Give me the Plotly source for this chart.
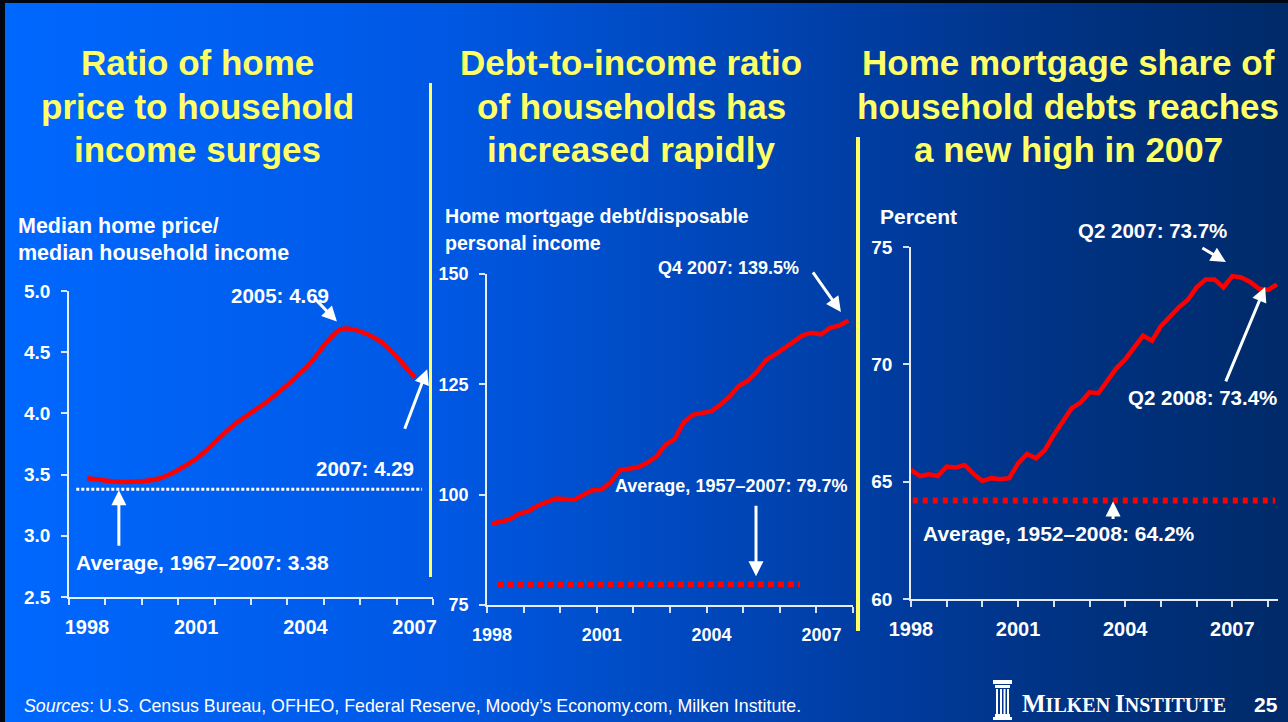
import plotly.graph_objects as go

W, H = 1288, 722

# ---------------- data ----------------
# Panel 1: median home price / median household income (annual, plotted mid-year)
p1_years = [1998, 1999, 2000, 2001, 2002, 2003, 2004, 2005, 2006, 2007]
p1_ratio = [3.47, 3.44, 3.47, 3.63, 3.90, 4.11, 4.37, 4.69, 4.60, 4.29]
p1_avg = 3.38
p1_avg_span = [1998.2, 2007.7]

# Panel 2: home mortgage debt / disposable personal income, quarterly 1998Q1-2007Q4
p2_start_year = 1998
p2_ratio = [93.4, 94.0, 94.4, 95.7,
            96.2, 97.5, 98.3, 99.1,
            99.0, 98.8, 99.9, 101.0,
            101.1, 102.8, 105.5, 105.8,
            106.2, 107.2, 108.6, 111.3,
            112.6, 116.4, 118.1, 118.5,
            118.9, 120.4, 122.2, 124.6,
            125.8, 127.9, 130.5, 131.8,
            133.3, 134.9, 136.1, 136.7,
            136.3, 137.8, 138.3, 139.5]
p2_avg = 79.7
p2_avg_span = [1998.3, 2006.55]

# Panel 3: home mortgage share of household debt, quarterly 1998Q1-2008Q2
p3_start_year = 1998
p3_share = [65.50, 65.24, 65.31, 65.24,
            65.64, 65.60, 65.71, 65.33,
            65.03, 65.15, 65.10, 65.15,
            65.78, 66.18, 66.00, 66.35,
            66.99, 67.56, 68.13, 68.37,
            68.81, 68.77, 69.33, 69.83,
            70.21, 70.68, 71.22, 71.01,
            71.63, 72.03, 72.43, 72.74,
            73.28, 73.62, 73.62, 73.28,
            73.76, 73.70, 73.51, 73.22,
            73.17, 73.40]
p3_avg = 64.2
p3_avg_span = [1998.05, 2008.2]

tick_years = list(range(1998, 2009))
label_years = [1998, 2001, 2004, 2007]

# ---------------- helpers ----------------
def fx(px):
    return px / W


def fy(py):
    return 1 - py / H


RED = "#FF0000"
YELLOW = "#FFFF66"
WHITE = "#FFFFFF"
SANS = "Liberation Sans, Arial, sans-serif"
SERIF = "Liberation Serif, Times New Roman, serif"

p1_x = [y + 0.5 for y in p1_years]
p2_x = [p2_start_year + (i + 0.5) / 4 for i in range(len(p2_ratio))]
p3_x = [p3_start_year + i / 4 for i in range(len(p3_share))]

fig = go.Figure()

fig.add_trace(go.Scatter(x=p1_x, y=p1_ratio, mode="lines", xaxis="x", yaxis="y",
                         line=dict(color=RED, width=4.5, shape="spline", smoothing=0.8),
                         hoverinfo="skip"))
fig.add_trace(go.Scatter(x=p1_avg_span, y=[p1_avg, p1_avg], mode="lines", xaxis="x", yaxis="y",
                         line=dict(color=WHITE, width=3, dash="3px,2px"), hoverinfo="skip"))

fig.add_trace(go.Scatter(x=p2_x, y=p2_ratio, mode="lines", xaxis="x2", yaxis="y2",
                         line=dict(color=RED, width=4.5), hoverinfo="skip"))
fig.add_trace(go.Scatter(x=p2_avg_span, y=[p2_avg, p2_avg], mode="lines", xaxis="x2", yaxis="y2",
                         line=dict(color=RED, width=6, dash="6px,4px"), hoverinfo="skip"))

fig.add_trace(go.Scatter(x=p3_x, y=p3_share, mode="lines", xaxis="x3", yaxis="y3",
                         line=dict(color=RED, width=4.5), hoverinfo="skip"))
fig.add_trace(go.Scatter(x=p3_avg_span, y=[p3_avg, p3_avg], mode="lines", xaxis="x3", yaxis="y3",
                         line=dict(color=RED, width=6, dash="5px,5px"), hoverinfo="skip"))


def xaxis(domain, rng, anchor, size, shift, standoff):
    return dict(domain=domain, range=rng, anchor=anchor, showgrid=False, zeroline=False,
                showline=True, linecolor="rgba(255,255,255,0.9)", linewidth=1.5,
                ticks="outside", ticklen=6, tickwidth=1.5, tickcolor="rgba(255,255,255,0.85)",
                tickvals=tick_years,
                ticktext=[str(y) if y in label_years else "" for y in tick_years],
                tickfont=dict(family=SANS, size=size, color=WHITE, weight="bold"),
                ticklabelshift=shift, ticklabelstandoff=standoff, automargin=False,
                fixedrange=True)


def yaxis(domain, rng, anchor, dtick, fmt, size):
    return dict(domain=domain, range=rng, anchor=anchor, showgrid=False, zeroline=False,
                showline=True, linecolor="rgba(255,255,255,0.9)", linewidth=1.5,
                ticks="outside", ticklen=6, tickwidth=1.5, tickcolor="rgba(255,255,255,0.85)",
                dtick=dtick, tick0=rng[0], tickformat=fmt,
                tickfont=dict(family=SANS, size=size, color=WHITE, weight="bold"),
                ticklabelstandoff=7, automargin=False, fixedrange=True)


layout = dict(
    width=W, height=H, autosize=False,
    margin=dict(l=0, r=0, t=0, b=0, pad=0, autoexpand=False),
    paper_bgcolor="#0058E0", plot_bgcolor="rgba(0,0,0,0)",
    showlegend=False,
    xaxis=xaxis([fx(69), fx(433)], [1998, 2008], "y", 20, 18, 5),
    yaxis=yaxis([fy(597), fy(291)], [2.5, 5.0], "x", 0.5, ".1f", 19),
    xaxis2=xaxis([fx(487), fx(853)], [1998, 2008], "y2", 18, 5, 7),
    yaxis2=yaxis([fy(605), fy(274)], [75, 150], "x2", 25, "d", 18),
    xaxis3=xaxis([fx(911), fx(1278)], [1998, 2008.28], "y3", 20, 0, 5),
    yaxis3=yaxis([fy(599), fy(247)], [60, 75], "x3", 5, "d", 19),
)

# ---------------- background gradient ----------------
stops = [(0.0, (0, 104, 255)), (0.34, (0, 88, 228)), (0.66, (0, 62, 165)),
         (0.8, (0, 52, 135)), (1.0, (0, 42, 105))]


def grad(t):
    for (t0, c0), (t1, c1) in zip(stops[:-1], stops[1:]):
        if t0 <= t <= t1:
            k = (t - t0) / (t1 - t0)
            return "rgb(%d,%d,%d)" % tuple(round(a + (b - a) * k) for a, b in zip(c0, c1))
    return "rgb(%d,%d,%d)" % stops[-1][1]


shapes = []
n = 161
for i in range(n):
    x0 = i / n
    x1 = min(1.0, (i + 1) / n + 0.002)
    shapes.append(dict(type="rect", xref="paper", yref="paper", x0=x0, x1=x1,
                       y0=0, y1=1, fillcolor=grad((2 * i + 1) / (2 * n)), line=dict(width=0),
                       layer="below"))

# dark frame on top and left edges
shapes.append(dict(type="rect", xref="paper", yref="paper", x0=0, x1=fx(5), y0=0, y1=1,
                   fillcolor="#000814", line=dict(width=0), layer="above"))
shapes.append(dict(type="rect", xref="paper", yref="paper", x0=0, x1=1, y0=fy(3), y1=1,
                   fillcolor="#000814", line=dict(width=0), layer="above"))

# yellow panel separators
shapes.append(dict(type="line", xref="paper", yref="paper", x0=fx(430.5), x1=fx(430.5),
                   y0=fy(83), y1=fy(577), line=dict(color=YELLOW, width=3)))
shapes.append(dict(type="line", xref="paper", yref="paper", x0=fx(858), x1=fx(858),
                   y0=fy(137), y1=fy(631), line=dict(color=YELLOW, width=4)))

# institute column logo
logo = [(993, 680, 1012, 684), (995, 685, 1010, 688), (996, 689, 998, 714), (1000, 689, 1002, 714),
        (1003.5, 689, 1005.5, 714), (1007, 689, 1009, 714), (995, 714, 1010, 717), (993, 717, 1012, 720)]
for x0, y0, x1, y1 in logo:
    shapes.append(dict(type="rect", xref="paper", yref="paper", x0=fx(x0), x1=fx(x1),
                       y0=fy(y1), y1=fy(y0), fillcolor=WHITE, line=dict(width=0)))

layout["shapes"] = shapes

# ---------------- text ----------------
ann = []


def text(px, py, s, size, color=WHITE, family=SANS, xanchor="center", weight="bold"):
    ann.append(dict(x=fx(px), y=fy(py), xref="paper", yref="paper", text=s, showarrow=False,
                    xanchor=xanchor, yanchor="middle",
                    font=dict(family=family, size=size, color=color, weight=weight)))


titles = [
    (197, ["Ratio of home", "price to household", "income surges"]),
    (631, ["Debt-to-income ratio", "of households has", "increased rapidly"]),
    (1068, ["Home mortgage share of", "household debts reaches", "a new high in 2007"]),
]
for cx, lines in titles:
    for k, line in enumerate(lines):
        text(cx, 63 + 43 * k, line, 35, color=YELLOW)

# axis captions
text(16, 226, "Median home price/", 21.5, xanchor="left")
text(16, 253, "median household income", 21.5, xanchor="left")
text(443, 216, "Home mortgage debt/disposable", 19.6, xanchor="left")
text(443, 243, "personal income", 19.6, xanchor="left")
text(878, 216, "Percent", 21, xanchor="left")

# value call-outs
text(280, 295, "2005: 4.69", 20.5)
text(365, 468, "2007: 4.29", 20.5)
text(202, 562, "Average, 1967\u20132007: 3.38", 21)
text(728, 268, "Q4 2007: 139.5%", 18)
text(731, 486, "Average, 1957\u20132007: 79.7%", 18)
text(1152, 230, "Q2 2007: 73.7%", 20.5)
text(1202, 398, "Q2 2008: 73.4%", 20.5)
text(1059, 533, "Average, 1952\u20132008: 64.2%", 21)


def arrow(x, y, ax, ay, axis_n="", standoff=0):
    ann.append(dict(x=x, y=y, xref="x" + axis_n, yref="y" + axis_n, ax=ax, ay=ay, text="",
                    showarrow=True, arrowhead=2, arrowsize=1.0, arrowwidth=3,
                    arrowcolor=WHITE, standoff=standoff))


arrow(2005.36, 4.75, -24, -25)
arrow(2007.84, 4.36, -23, 61)
arrow(1999.37, p1_avg, 0, 58, standoff=1)
arrow(2007.67, 141.4, -29, -41, "2")
arrow(2005.35, p2_avg, 0, -80, "2", standoff=8)
arrow(2006.82, 74.36, -25, -15, "3")
arrow(2007.92, 73.30, -40, 96, "3")
arrow(2003.66, p3_avg, 0, 20, "3", standoff=1)

# footer
text(22, 706, "<i>Sources</i>: U.S. Census Bureau, OFHEO, Federal Reserve, Moody\u2019s Economy.com, Milken Institute.",
     17.8, xanchor="left", weight="normal")
text(1020, 703,
     "<span style='font-size:25px'>M</span>ILKEN <span style='font-size:25px'>I</span>NSTITUTE",
     20, family=SERIF, xanchor="left")
text(1266, 704, "25", 21)

layout["annotations"] = ann
fig.update_layout(**layout)

fig.write_html("out.html", config={"displayModeBar": False})
